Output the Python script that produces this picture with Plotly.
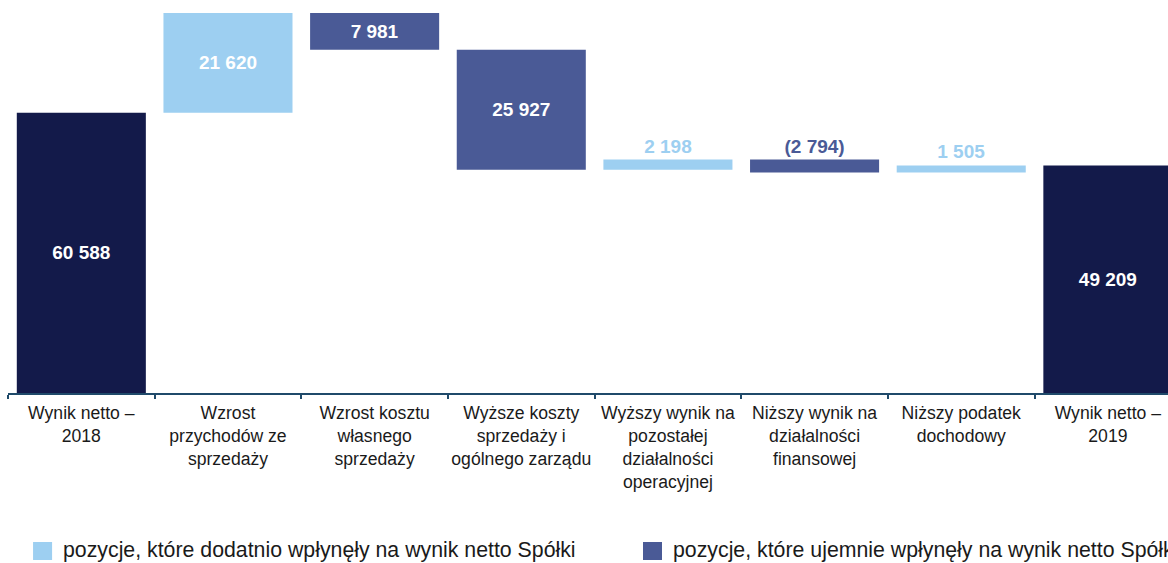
import plotly.graph_objects as go

categories = [
    "Wynik netto –<br>2018",
    "Wzrost<br>przychodów ze<br>sprzedaży",
    "Wzrost kosztu<br>własnego<br>sprzedaży",
    "Wyższe koszty<br>sprzedaży i<br>ogólnego zarządu",
    "Wyższy wynik na<br>pozostałej<br>działalności<br>operacyjnej",
    "Niższy wynik na<br>działalności<br>finansowej",
    "Niższy podatek<br>dochodowy",
    "Wynik netto –<br>2019",
]
start_value = 60588
changes = [21620, -7981, -25927, 2198, -2794, 1505]
end_value = 49209
value_labels = ["60 588", "21 620", "7 981", "25 927", "2 198", "(2 794)", "1 505", "49 209"]
legend_labels = [
    "pozycje, które dodatnio wpłynęły na wynik netto Spółki",
    "pozycje, które ujemnie wpłynęły na wynik netto Spółki",
]

C_TOTAL = "#131A4A"
C_POS = "#9DCFF1"
C_NEG = "#4A5A96"

bases = [0]
heights = [start_value]
colors = [C_TOTAL]
running = start_value
for c in changes:
    bases.append(min(running, running + c))
    heights.append(abs(c))
    colors.append(C_POS if c > 0 else C_NEG)
    running += c
bases.append(0)
heights.append(end_value)
colors.append(C_TOTAL)

textpos = ["inside" if h >= 5000 else "outside" for h in heights]
textcolors = ["white" if p == "inside" else col for p, col in zip(textpos, colors)]

FONT = "Liberation Sans, Arial, sans-serif"

fig = go.Figure()
fig.add_trace(go.Bar(
    x=categories, y=heights, base=bases,
    marker=dict(color=colors, line=dict(width=0)),
    text=value_labels, textposition=textpos,
    insidetextanchor="middle",
    textfont=dict(family=FONT, size=19, color=textcolors, weight="bold"),
    constraintext="none", cliponaxis=False,
    hoverinfo="skip", showlegend=False,
))

fig.update_layout(
    width=1168, height=563,
    margin=dict(l=8, r=0, t=12, b=170),
    paper_bgcolor="white", plot_bgcolor="white",
    bargap=0.12,
    font=dict(family=FONT, size=18, color="#1a1a1a"),
    showlegend=False,
)
fig.update_xaxes(
    range=[-0.5, 7.41], showgrid=False, showline=True, linecolor="#1F4A6A", linewidth=1.5,
    ticks="outside", tickson="boundaries", ticklen=4, tickcolor="#1F4A6A", tickwidth=1.5,
    tickfont=dict(family=FONT, size=17.6, color="#1a1a1a"), tickangle=0,
    ticklabelstandoff=3,
)
fig.update_yaxes(range=[0, 82400], visible=False, showgrid=False, zeroline=False)

# legend drawn as squares + text in paper coordinates
legend_x = [0.0216, 0.5474]
legend_colors = [C_POS, C_NEG]
for lx, lc, lt in zip(legend_x, legend_colors, legend_labels):
    fig.add_shape(type="rect", xref="paper", yref="paper",
                  x0=lx, x1=lx + 0.0164, y0=-0.4383, y1=-0.3911,
                  fillcolor=lc, line=dict(width=0))
    fig.add_annotation(xref="paper", yref="paper", x=lx + 0.0245, y=-0.412,
                       text=lt, showarrow=False, xanchor="left", yanchor="middle",
                       font=dict(family=FONT, size=21.3, color="#1a1a1a"))

fig.write_html("out.html", config={"displayModeBar": False},
               post_script="document.body.style.margin='0';")
